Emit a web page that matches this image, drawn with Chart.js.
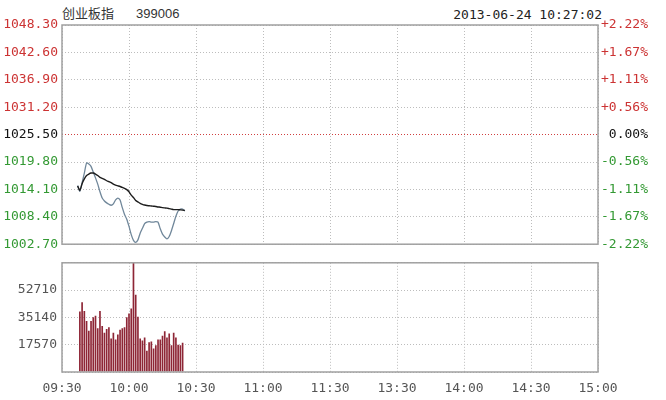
<!DOCTYPE html>
<html><head><meta charset="utf-8">
<script src="https://cdn.jsdelivr.net/npm/chart.js@4"></script>
<style>
html,body{margin:0;padding:0;background:#fff;width:666px;height:400px;overflow:hidden;}
#title{position:absolute;left:62px;top:5px;font:13px "Noto Sans CJK SC",sans-serif;color:#333;line-height:16px;white-space:nowrap;}
#title span{font-family:"Liberation Sans",sans-serif;margin-left:22px;}
#stamp{position:absolute;right:64px;top:7px;font:13px "DejaVu Sans Mono",monospace;color:#222;line-height:16px;}
#c1{position:absolute;left:0;top:0;}
#c2{position:absolute;left:0;top:250px;}
</style></head><body>
<div id="title">创业板指<span>399006</span></div>
<div id="stamp">2013-06-24 10:27:02</div>
<canvas id="c1" width="666" height="256"></canvas>
<canvas id="c2" width="666" height="150"></canvas>
<script>
// ---- data ----
const priceTicks = [1002.70, 1008.40, 1014.10, 1019.80, 1025.50, 1031.20, 1036.90, 1042.60, 1048.30];
const pctLabels = ['-2.22%', '-1.67%', '-1.11%', '-0.56%', '0.00%', '+0.56%', '+1.11%', '+1.67%', '+2.22%'];
const prevClose = 1025.50;
const timeTicks = [0, 30, 60, 90, 120, 150, 180, 210, 240];
const timeLabels = ['09:30', '10:00', '10:30', '11:00', '11:30', '13:30', '14:00', '14:30', '15:00'];
const volTicks = [0, 17570, 35140, 52710, 70280];
const priceStart = 7;   // minutes after 09:30 of first price point
const price = [1014.9, 1013.7, 1015.5, 1017.5, 1019.6, 1019.4, 1018.9, 1017.7, 1016.5, 1015.2,
  1013.6, 1012.3, 1011.7, 1011.3, 1011.0, 1010.8, 1011.1, 1011.9, 1012.3, 1011.9,
  1010.3, 1008.9, 1007.9, 1006.4, 1004.7, 1003.5, 1003.1, 1003.6, 1005.0, 1006.0,
  1007.0, 1007.3, 1007.4, 1007.3, 1007.3, 1007.4, 1007.3, 1005.9, 1004.8, 1004.2,
  1003.8, 1004.3, 1005.5, 1007.0, 1008.5, 1009.6, 1010.0, 1010.0, 1009.6];
const avgPrice = [1014.8, 1013.9, 1015.3, 1016.3, 1017.0, 1017.3, 1017.5, 1017.5, 1017.3, 1017.0,
  1016.6, 1016.4, 1016.2, 1015.9, 1015.7, 1015.5, 1015.2, 1015.0, 1014.85, 1014.7,
  1014.5, 1014.3, 1014.05, 1013.6, 1012.9, 1012.4, 1011.8, 1011.5, 1011.2, 1011.0,
  1010.85, 1010.75, 1010.7, 1010.65, 1010.6, 1010.55, 1010.45, 1010.4, 1010.3, 1010.25,
  1010.2, 1010.1, 1010.0, 1009.9, 1009.9, 1009.9, 1009.85, 1009.8, 1009.7];
const volStart = 8;
const volume = [38860, 44870, 39230, 32860, 26620, 32860, 35260, 36220, 28230, 39230,
  29610, 25230, 27630, 28830, 21620, 25230, 20840, 24210, 27210, 28230,
  28830, 35260, 37660, 40850, 75000, 49680, 35620, 21620, 20240, 22230,
  13630, 19220, 19620, 15200, 17240, 20840, 20840, 23250, 26250, 22230,
  24810, 17240, 25230, 22230, 17600, 17240, 18840];

// ---- styling ----
const monoFont = {family: 'DejaVu Sans Mono', size: 13};
const gridGray = '#bdbdbd';
const upColor = '#cc3333', downColor = '#339933';

const frame = {
  id: 'frame',
  afterDraw(chart) {
    const a = chart.chartArea, ctx = chart.ctx;
    ctx.save();
    ctx.strokeStyle = '#a0a0a0';
    ctx.lineWidth = 1.5;
    ctx.strokeRect(a.left, a.top, a.right - a.left, a.bottom - a.top);
    ctx.restore();
  }
};

const xAxisBase = (showLabels) => ({
  type: 'linear', min: 0, max: 240, offset: false,
  afterBuildTicks: s => { s.ticks = timeTicks.map(v => ({value: v})); },
  ticks: {display: showLabels, font: monoFont, color: '#555', padding: 9, maxRotation: 0,
    callback: (v, i) => timeLabels[i]},
  grid: {color: gridGray, drawTicks: false, lineWidth: 1, offset: false},
  border: {display: false, dash: [1, 2]}
});

function labelColor(v) {
  if (Math.abs(v - prevClose) < 1e-6) return '#111';
  return v > prevClose ? upColor : downColor;
}

new Chart(document.getElementById('c1'), {
  type: 'line',
  data: {datasets: [
    {label: '均价', data: avgPrice.map((v, i) => ({x: priceStart + i, y: v})),
      borderColor: '#1c1c1c', borderWidth: 1.4, pointRadius: 0, tension: 0.2, yAxisID: 'y'},
    {label: '创业板指', data: price.map((v, i) => ({x: priceStart + i, y: v})),
      borderColor: '#70879a', borderWidth: 1.3, pointRadius: 0, tension: 0.2, yAxisID: 'y'}
  ]},
  options: {
    responsive: false, animation: false, devicePixelRatio: 1,
    layout: {padding: {top: 25, right: 18, bottom: 11, left: 0}},
    plugins: {legend: {display: false}, tooltip: {enabled: false}},
    scales: {
      x: Object.assign(xAxisBase(false), {afterFit: s => { s.height = 0; }}),
      y: {
        position: 'left', min: priceTicks[0], max: priceTicks[priceTicks.length - 1],
        afterBuildTicks: s => { s.ticks = priceTicks.map(v => ({value: v})); },
        afterFit: s => { s.width = 62; },
        ticks: {font: monoFont, padding: 4, callback: (v, i) => priceTicks[i].toFixed(2),
          color: c => labelColor(c.tick.value)},
        grid: {drawTicks: false,
          color: c => (c.tick && Math.abs(c.tick.value - prevClose) < 1e-6) ? '#d04040' : gridGray},
        border: {display: false, dash: [1, 2]}
      },
      y2: {
        position: 'right', min: priceTicks[0], max: priceTicks[priceTicks.length - 1],
        afterBuildTicks: s => { s.ticks = priceTicks.map(v => ({value: v})); },
        afterFit: s => { s.width = 50; },
        ticks: {font: monoFont, padding: 2, crossAlign: 'far', callback: (v, i) => pctLabels[i],
          color: c => labelColor(c.tick.value)},
        grid: {display: false},
        border: {display: false}
      }
    }
  },
  plugins: [frame]
});

new Chart(document.getElementById('c2'), {
  type: 'bar',
  data: {datasets: [
    {label: '成交量', data: volume.map((v, i) => ({x: volStart + i, y: v})),
      backgroundColor: '#8e2636', barPercentage: 0.75, categoryPercentage: 1.0}
  ]},
  options: {
    responsive: false, animation: false, devicePixelRatio: 1,
    layout: {padding: {top: 5, right: 68, bottom: 0, left: 0}},
    plugins: {legend: {display: false}, tooltip: {enabled: false}},
    scales: {
      x: Object.assign(xAxisBase(true), {afterFit: s => { s.height = 28; }}),
      y: {
        position: 'left', min: volTicks[0], max: volTicks[volTicks.length - 1],
        afterBuildTicks: s => { s.ticks = volTicks.map(v => ({value: v})); },
        afterFit: s => { s.width = 62; },
        ticks: {font: monoFont, padding: 5, color: '#555',
          callback: (v, i) => (i === 0 || i === volTicks.length - 1) ? '' : String(volTicks[i])},
        grid: {drawTicks: false, color: gridGray},
        border: {display: false, dash: [1, 2]}
      }
    }
  },
  plugins: [frame]
});
</script>
</body></html>
